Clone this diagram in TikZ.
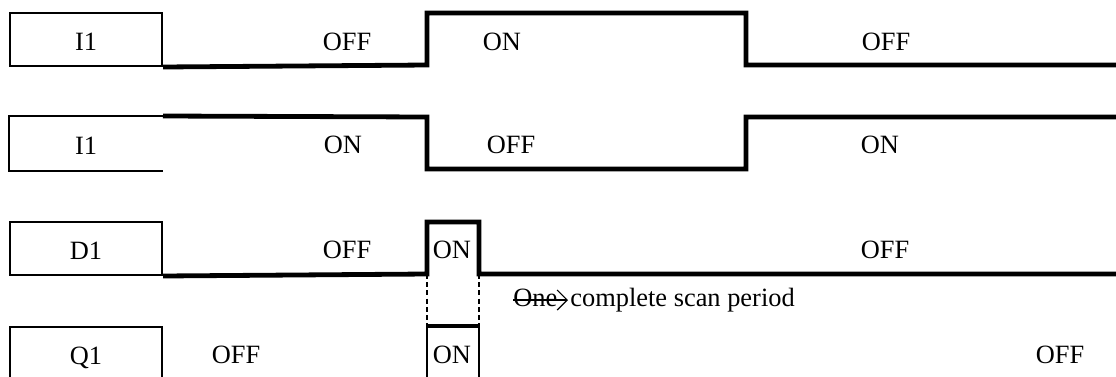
\documentclass[tikz,border=0pt]{standalone}
\usepackage{fontspec}
\setmainfont{Liberation Serif}
\usetikzlibrary{arrows.meta}
\begin{document}
\begin{tikzpicture}[x=0.5pt,y=-0.5pt,
  sig/.style={draw,line width=1pt,minimum width=76pt,minimum height=26.5pt,
    inner sep=0pt,anchor=north west,text height=11pt,text depth=0pt,
    font=\fontsize{13.2}{15}\selectfont},
  txt/.style={anchor=base,inner sep=0pt,font=\fontsize{13.2}{15}\selectfont},
  wave/.style={line width=2.4pt,line join=miter},
  guide/.style={line width=0.7pt,dash pattern=on 2.5pt off 1.6pt}]
\useasboundingbox (0,0) rectangle (1116,376);
\clip (0,0) rectangle (1116,376);

% signal name boxes
\node[sig] (i1a) at (9,12)  {I1};
\node[sig,draw=none] (i1b) at (9,116) {I1};
\draw[line width=1pt] (i1b.north east) -- (i1b.north west) -- (i1b.south west) -- (i1b.south east);
\node[sig] (d1)  at (9,221) {D1};
\node[sig] (q1)  at (9,326) {Q1};

% I1 (normally open)
\draw[wave] (i1a.south east) -- (427,65) -- (427,13) -- (746,13) -- (746,65) -- (1116,65);
\node[txt] (t11) at (347,50) {OFF};
\node[txt] (t12) at (502,50) {ON};
\node[txt] (t13) at (886,50) {OFF};

% I1 (inverted)
\draw[wave] (i1b.north east) -- (427,117) -- (427,169) -- (746,169) -- (746,117) -- (1116,117);
\node[txt] (t21) at (343,153) {ON};
\node[txt] (t22) at (511,153) {OFF};
\node[txt] (t23) at (880,153) {ON};

% D1 one-scan pulse
\coordinate (dr) at (427,274);
\coordinate (df) at (479,274);
\draw[wave] (d1.south east) -- (dr) -- (427,222) -- (479,222) -- (df) -- (1116,274);
\node[txt] (t31) at (347,258) {OFF};
\node[txt] (t32) at (452,258) {ON};
\node[txt] (t33) at (885,258) {OFF};

% Q1
\coordinate (qr) at (427,326);
\coordinate (qf) at (479,326);
\draw[line width=1pt] (427,380) -- (qr) (qf) -- (479,380);
\draw[line width=1.8pt] (426,326) -- (480,326);
\node[txt] (t41) at (236,363) {OFF};
\node[txt] (t42) at (452,363) {ON};
\node[txt] (t43) at (1060,363) {OFF};

% scan period guides
\draw[guide] (dr) -- (qr);
\draw[guide] (df) -- (qf);

% scan period note
\node[txt,anchor=base west] (one) at (513,306) {One};
\draw[line width=0.6pt,-{Straight Barb[length=5pt,width=10pt,line width=0.6pt]}]
  (one.base west) ++(0,-6) -- ++(55,0);
\node[txt,anchor=base west] (scan) at (570,306) {complete scan period};
\end{tikzpicture}
\end{document}
